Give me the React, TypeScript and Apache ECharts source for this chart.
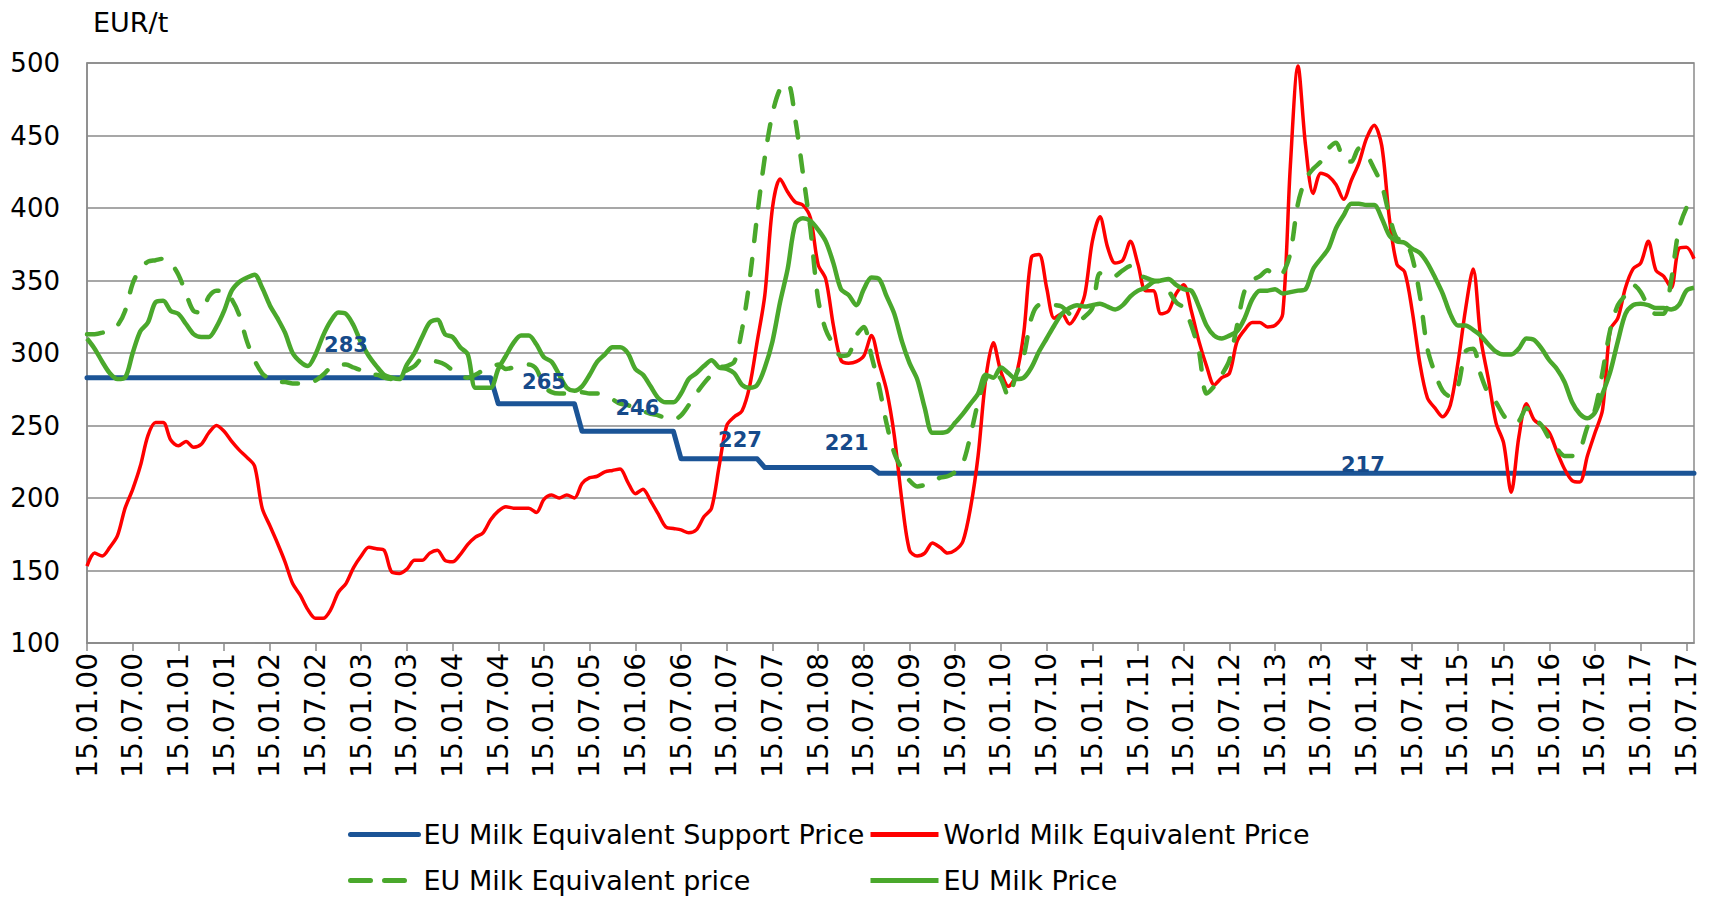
import React, { useEffect, useRef } from "react";
import * as echarts from "echarts";

// Monthly observations, 15.01.2000 .. 15.08.2017
const worldMilkEquivalentPrice = [
  153, 162, 160, 166, 174, 193, 206, 222, 243, 252, 252, 240,
  236, 239, 235, 237, 245, 250, 246, 239, 233, 228, 222, 193,
  181, 169, 156, 141, 133, 123, 117, 117, 123, 135, 141, 152,
  160, 166, 165, 164, 149, 148, 151, 157, 157, 162, 164, 157,
  156, 161, 168, 173, 176, 185, 191, 194, 193, 193, 193, 190,
  199, 202, 200, 202, 200, 210, 214, 215, 218, 219, 220, 211,
  203, 206, 198, 189, 180, 179, 178, 176, 178, 187, 193, 222,
  250, 256, 260, 277, 308, 340, 400, 420, 411, 404, 402, 393,
  361, 351, 319, 295, 293, 294, 298, 312, 293, 274, 243, 198,
  164, 160, 162, 169, 166, 162, 164, 170, 193, 229, 282, 307,
  287, 277, 285, 314, 366, 368, 345, 324, 327, 320, 327, 340,
  377, 394, 373, 362, 364, 377, 361, 343, 343, 327, 329, 341,
  347, 329, 308, 291, 278, 283, 286, 308, 316, 321, 321, 318,
  319, 327, 429, 498, 443, 410, 424, 422, 416, 406, 419, 431,
  448, 457, 443, 393, 361, 356, 329, 293, 269, 262, 256, 264,
  293, 330, 358, 310, 282, 252, 238, 204, 242, 265, 254, 250,
  245, 232, 220, 212, 211, 229, 245, 261, 316, 324, 345, 358,
  362, 377, 357, 353, 345, 372, 373, 365,
];

const euMilkEquivalentPrice = [
  313, 313, 314, 316, 319, 329, 348, 358, 363, 364, 365, 362,
  354, 341, 329, 328, 339, 343, 343, 337, 326, 308, 295, 286,
  282, 280, 280, 279, 279, 279, 281, 285, 290, 292, 292, 290,
  288, 285, 285, 283, 282, 285, 288, 291, 296, 295, 294, 292,
  288, 284, 283, 285, 288, 290, 292, 289, 290, 291, 292, 289,
  277, 273, 272, 272, 272, 273, 272, 272, 270, 268, 265, 264,
  262, 260, 258, 257, 255, 254, 257, 264, 272, 279, 285, 290,
  291, 294, 316, 350, 395, 435, 465, 482, 486, 461, 424, 385,
  337, 316, 306, 298, 299, 312, 318, 298, 277, 251, 231, 220,
  212, 208, 209, 211, 214, 215, 218, 224, 243, 266, 282, 287,
  282, 270, 285, 298, 324, 333, 333, 333, 332, 327, 322, 325,
  331, 355, 352, 353, 357, 360, 354, 352, 350, 349, 343, 335,
  331, 319, 301, 272, 277, 285, 295, 319, 343, 350, 353, 357,
  353, 355, 369, 403, 420, 427, 432, 441, 445, 433, 432, 441,
  437, 427, 416, 395, 379, 378, 366, 340, 303, 286, 274, 270,
  277, 301, 303, 285, 272, 266, 257, 252, 253, 262, 255, 250,
  241, 234, 229, 229, 233, 249, 261, 287, 316, 333, 340, 347,
  342, 332, 327, 327, 350, 385, 400, 408,
];

const euMilkPrice = [
  310, 303, 294, 286, 282, 283, 300, 315, 321, 335, 336, 329,
  327, 320, 313, 311, 311, 318, 329, 343, 349, 352, 354, 345,
  333, 324, 314, 300, 294, 291, 299, 312, 322, 328, 327, 319,
  307, 298, 291, 285, 283, 282, 292, 300, 311, 321, 323, 313,
  311, 304, 299, 276, 276, 276, 289, 298, 307, 312, 312, 306,
  297, 294, 285, 276, 274, 277, 285, 294, 299, 304, 304, 300,
  289, 285, 277, 269, 266, 266, 272, 282, 286, 291, 295, 290,
  289, 286, 278, 276, 278, 290, 308, 335, 358, 389, 393, 391,
  385, 377, 362, 344, 340, 333, 344, 352, 351, 339, 327, 308,
  293, 282, 262, 245, 245, 246, 252, 258, 265, 272, 285, 283,
  290, 286, 282, 283, 290, 301, 310, 319, 327, 331, 333, 332,
  333, 334, 332, 330, 333, 339, 343, 345, 349, 350, 351, 347,
  344, 343, 332, 319, 312, 310, 312, 315, 324, 337, 343, 343,
  344, 341, 342, 343, 344, 358, 365, 372, 386, 395, 403, 403,
  402, 402, 393, 381, 377, 376, 372, 369, 362, 352, 341, 327,
  319, 319, 316, 312, 306, 301, 299, 299, 303, 310, 309, 303,
  295, 289, 280, 266, 258, 255, 259, 272, 287, 308, 327, 333,
  334, 333, 331, 331, 330, 333, 343, 345,
];

// EU support price levels and the month index where each level starts
const supportLevels = [283, 265, 246, 227, 221, 217];
const supportStarts = [0, 54, 65, 78, 89, 104];

// Month indexes where the support level is labelled
const supportLabelIdx = [34, 60, 72, 86, 100, 167];

const yTicks = { min: 100, max: 500, interval: 50 };

const N = worldMilkEquivalentPrice.length;
const pad = (n: number) => (n < 10 ? "0" + n : "" + n);
const months: string[] = [];
for (let i = 0; i < N; i++) {
  months.push(`15.${pad((i % 12) + 1)}.${pad(Math.floor(i / 12) % 100)}`);
}
const support: number[] = [];
for (let i = 0; i < N; i++) {
  let v = supportLevels[0];
  for (let k = 0; k < supportStarts.length; k++) if (i >= supportStarts[k]) v = supportLevels[k];
  support.push(v);
}

const labelOffsets = [
  [0, -33],
  [0, -22],
  [2, -23],
  [-2, -19],
  [-2, -25],
  [4, -8],
];

const BLUE = "#1b5496";
const LABEL_BLUE = "#164a8a";
const RED = "#ff0000";
const GREEN = "#4aa82c";
const FONT = "DejaVu Sans";

export default function App() {
  const ref = useRef<HTMLDivElement>(null);
  useEffect(() => {
    if (!ref.current) return;
    const chart = echarts.init(ref.current, undefined, { renderer: "svg" });
    const legendBase = {
      itemWidth: 68,
      itemHeight: 14,
      itemGap: 0,
      itemStyle: { opacity: 0 },
      lineStyle: { width: 5 },
      textStyle: { fontSize: 27, lineHeight: 26, fontFamily: FONT, color: "#000" },
    };
    chart.setOption({
      animation: false,
      backgroundColor: "#fff",
      grid: {
        left: 87,
        right: 18,
        top: 63,
        bottom: 255,
        show: true,
        borderColor: "#8a8a8a",
        borderWidth: 1.5,
        containLabel: false,
      },
      graphic: [
        {
          type: "text",
          left: 93,
          top: 9,
          style: { text: "EUR/t", font: `27px "${FONT}"`, fill: "#000" },
        },
      ],
      legend: [
        { ...legendBase, left: 343, top: 816, data: ["EU Milk Equivalent Support Price"] },
        { ...legendBase, left: 863, top: 816, data: ["World Milk Equivalent Price"] },
        {
          ...legendBase,
          left: 343,
          top: 862,
          data: [{ name: "EU Milk Equivalent price", lineStyle: { type: [20, 14], cap: "round" } }],
        },
        { ...legendBase, left: 863, top: 862, data: ["EU Milk Price"] },
      ],
      xAxis: {
        type: "category",
        data: months,
        boundaryGap: false,
        axisLine: { show: true, lineStyle: { color: "#8a8a8a", width: 1.5 } },
        axisTick: {
          show: true,
          length: 8,
          interval: (i: number) => i % 6 === 0,
          lineStyle: { color: "#8a8a8a", width: 1.5 },
        },
        axisLabel: {
          interval: (i: number) => i % 6 === 0,
          rotate: 90,
          margin: 10,
          fontSize: 28,
          fontFamily: FONT,
          color: "#000",
        },
        splitLine: { show: false },
      },
      yAxis: {
        type: "value",
        min: yTicks.min,
        max: yTicks.max,
        interval: yTicks.interval,
        axisLine: { show: true, lineStyle: { color: "#8a8a8a", width: 1.5 } },
        axisTick: { show: false },
        axisLabel: { margin: 27, fontSize: 26, fontFamily: FONT, color: "#000" },
        splitLine: { lineStyle: { color: "#8a8a8a", width: 1.5 } },
      },
      series: [
        {
          name: "EU Milk Equivalent Support Price",
          type: "line",
          data: support,
          symbol: "none",
          color: BLUE,
          lineStyle: { color: BLUE, width: 5, cap: "round", join: "round" },
          z: 2,
        },
        {
          name: "World Milk Equivalent Price",
          type: "line",
          data: worldMilkEquivalentPrice,
          symbol: "none",
          smooth: 0.3,
          color: RED,
          lineStyle: { color: RED, width: 3.5 },
          z: 3,
        },
        {
          name: "EU Milk Equivalent price",
          type: "line",
          data: euMilkEquivalentPrice,
          symbol: "none",
          smooth: 0.3,
          color: GREEN,
          lineStyle: { color: GREEN, width: 4.5, type: [16, 18], cap: "round" },
          z: 4,
        },
        {
          name: "EU Milk Price",
          type: "line",
          data: euMilkPrice,
          symbol: "none",
          smooth: 0.3,
          color: GREEN,
          lineStyle: { color: GREEN, width: 4.5 },
          z: 5,
        },
        {
          name: "support-labels",
          type: "scatter",
          symbolSize: 0,
          silent: true,
          z: 10,
          itemStyle: { color: LABEL_BLUE },
          data: supportLabelIdx.map((idx, k) => ({
            value: [idx, support[idx]],
            label: { offset: labelOffsets[k] },
          })),
          label: {
            show: true,
            position: "inside",
            formatter: (p: any) => String(p.value[1]),
            fontSize: 21,
            fontWeight: "bold",
            fontFamily: FONT,
            color: LABEL_BLUE,
            opacity: 1,
            textBorderWidth: 0,
            textBorderColor: "transparent",
          },
        },
      ],
    });
    return () => chart.dispose();
  }, []);
  return (
    <div
      ref={ref}
      style={{ position: "fixed", left: 0, top: 0, width: "1712px", height: "898px" }}
    />
  );
}
